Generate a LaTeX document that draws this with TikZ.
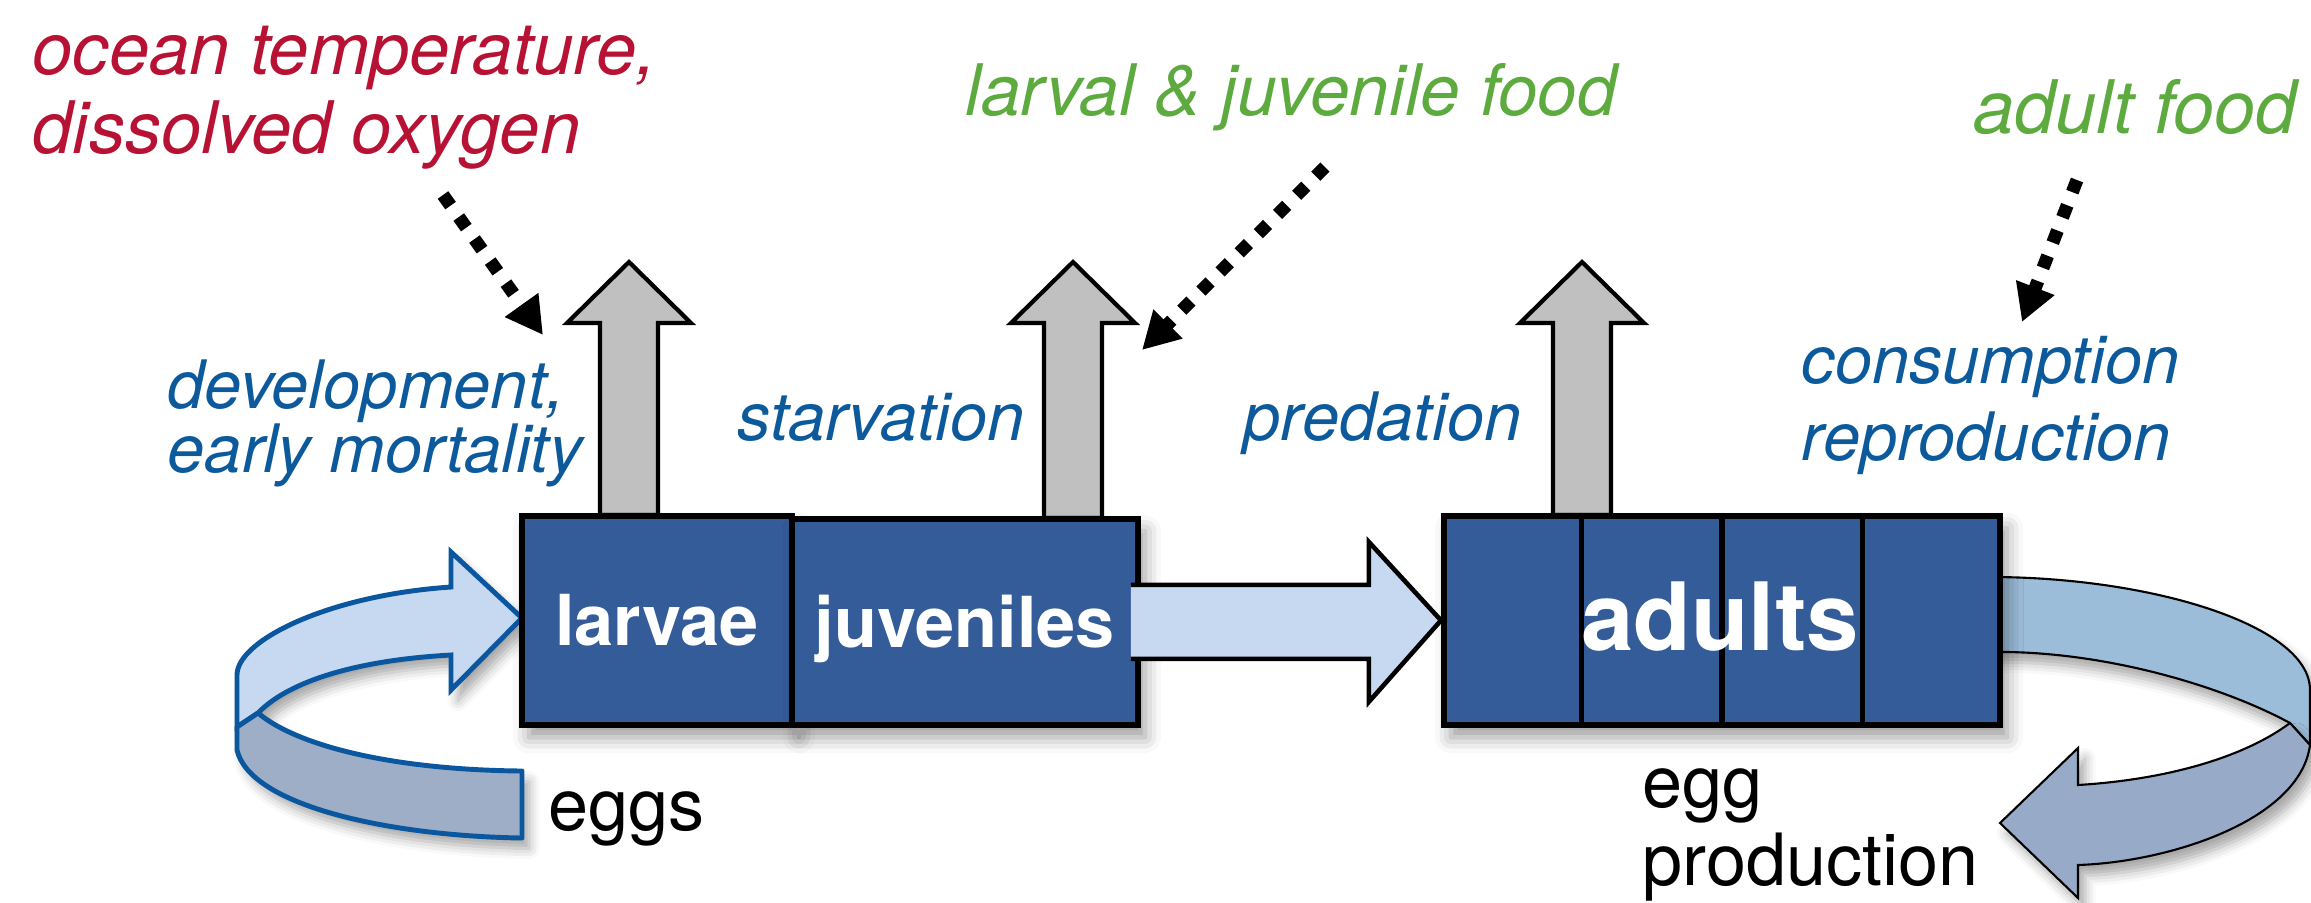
\documentclass[tikz,border=0pt]{standalone}
\usepackage{fontspec}
\setmainfont{TeX Gyre Heros}
\usetikzlibrary{arrows.meta,calc,shadows.blur}
\definecolor{boxblue}{HTML}{335C99}
\definecolor{flowgray}{HTML}{C0C0C0}
\definecolor{paleblue}{HTML}{C6D9F0}
\definecolor{loopdark}{HTML}{9EAEC6}
\definecolor{loopline}{HTML}{0A57A0}
\definecolor{rloop}{HTML}{9CBDDA}
\definecolor{rloopdark}{HTML}{97ABC8}
\definecolor{envred}{HTML}{B71234}
\definecolor{foodgreen}{HTML}{5DAA3F}
\definecolor{procblue}{HTML}{0C5A9B}
\begin{document}
\begin{tikzpicture}[x=0.01cm,y=-0.01cm,
  box/.style={draw=black, line width=1.6pt, fill=boxblue, inner sep=0pt,
    text=white, font=\bfseries\fontsize{20}{24}\selectfont,
    text height=14.4pt, text depth=0pt,
    blur shadow={shadow xshift=2pt, shadow yshift=-3.5pt, shadow blur radius=4.5pt, shadow opacity=40}},
  flowarrow/.style={draw=black, line width=1.2pt, fill=flowgray, line join=miter},
  bigarrow/.style={draw=black, line width=1.3pt, fill=paleblue, line join=miter},
  dotarrow/.style={draw=black, line width=3.7pt, dash pattern=on 3.7pt off 4pt,
    -{Triangle[length=10.5pt,width=11pt]}},
  lbl/.style={inner sep=0pt, anchor=base west},
  envtext/.style={lbl, text=envred, font=\itshape\fontsize{20.6}{24}\selectfont},
  foodtext/.style={lbl, text=foodgreen, font=\itshape\fontsize{20.2}{24}\selectfont},
  proctext/.style={lbl, text=procblue, font=\itshape\fontsize{19}{23}\selectfont},
  plaintext/.style={lbl, text=black, font=\fontsize{20.5}{24}\selectfont},
  loopshadow/.style={blur shadow={shadow xshift=2pt, shadow yshift=-3pt, shadow blur radius=3pt, shadow opacity=35}}
]
\useasboundingbox (0,0) rectangle (2311,902);

% outflow (mortality) arrows
\draw[flowarrow] (600,530) -- (600,323) -- (567,323) -- (629,262) -- (691,323) -- (658,323) -- (658,530) -- cycle;
\draw[flowarrow] (1044,530) -- (1044,323) -- (1011,323) -- (1073,262) -- (1135,323) -- (1102,323) -- (1102,530) -- cycle;
\draw[flowarrow] (1553,530) -- (1553,323) -- (1520,323) -- (1582,262) -- (1644,323) -- (1611,323) -- (1611,530) -- cycle;

% left loop: eggs -> larvae
\draw[loopline, line width=1.4pt, fill=paleblue, line join=miter, loopshadow]
  (451,587) .. controls (330,595) and (237,640) .. (237,675) -- (237,727) -- (258,713)
  .. controls (290,680) and (360,660) .. (451,655) -- (451,690) -- (522,618) -- (451,552) -- cycle;
\draw[loopline, line width=1.4pt, fill=loopdark, line join=round, loopshadow]
  (237,727) -- (258,713) .. controls (300,748) and (400,770) .. (522,771) -- (522,838)
  .. controls (390,836) and (250,806) .. (237,750) -- cycle;

% right loop: adults -> egg production
\draw[black, line width=0.6pt, fill=rloop, loopshadow]
  (1990,577) .. controls (2150,577) and (2310,625) .. (2310,690) -- (2310,745) -- (2290,723)
  .. controls (2220,685) and (2100,650) .. (1990,652) -- cycle;
\draw[black, line width=0.6pt, fill=rloopdark, line join=miter, loopshadow]
  (2290,723) -- (2310,745) .. controls (2300,820) and (2170,862) .. (2078,865)
  -- (2078,898) -- (2000,823) -- (2078,748) -- (2078,785)
  .. controls (2160,780) and (2240,760) .. (2290,723) -- cycle;

% stage boxes
\node[box, minimum width=2.70cm, minimum height=2.09cm, anchor=north west] (larvae) at (519,513) {larvae};
\node[box, minimum width=3.46cm, minimum height=2.06cm, anchor=north west] (juv) at (789,516) {juveniles};
\node[box, minimum width=5.56cm, minimum height=2.09cm, anchor=north west] (adults) at (1441,513) {};

% growth arrow juveniles -> adults
\draw[bigarrow] ($(juv.east)+(-10,-37)$) -- ($(juv.east)+(228,-37)$) -- ($(juv.east)+(228,-80)$)
  -- (adults.west) -- ($(juv.east)+(228,80)$) -- ($(juv.east)+(228,37)$) -- ($(juv.east)+(-10,37)$);

\foreach \f in {0.25,0.5,0.75}
  \draw[black, line width=1.6pt] ($(adults.north west)!\f!(adults.north east)$) -- ($(adults.south west)!\f!(adults.south east)$);
\node[inner sep=0pt, text=white, font=\bfseries\fontsize{26.8}{30}\selectfont, anchor=base] (adultsT) at (1720,650) {adults};

% labels
\node[envtext] (env1) at (32,74) {ocean temperature,};
\node[envtext] (env2) at (32,153) {dissolved oxygen};
\node[foodtext] (food1) at (965,115) {larval \& juvenile food};
\node[foodtext, font=\itshape\fontsize{21}{24}\selectfont] (food2) at (1973,133) {adult food};
\node[proctext] (dev1) at (167,408) {development,};
\node[proctext] (dev2) at (167,472) {early mortality};
\node[proctext] (starv) at (737,440) {starvation};
\node[proctext] (pred) at (1243,440) {predation};
\node[proctext] (cons) at (1801,383) {consumption};
\node[proctext] (repr) at (1801,460) {reproduction};
\node[plaintext] (eggs) at (548,830) {eggs};
\node[plaintext] (egg1) at (1642,807) {egg};
\node[plaintext] (egg2) at (1642,885) {production};

% environmental influence arrows
\coordinate (d1s) at (443,195); \coordinate (d1e) at (543,335);
\coordinate (d2s) at (1325,167); \coordinate (d2e) at (1142,350);
\coordinate (d3s) at (2077,180); \coordinate (d3e) at (2022,322);
\draw[dotarrow] (d1s) -- (d1e);
\draw[dotarrow] (d2s) -- (d2e);
\draw[dotarrow] (d3s) -- (d3e);
\end{tikzpicture}
\end{document}
